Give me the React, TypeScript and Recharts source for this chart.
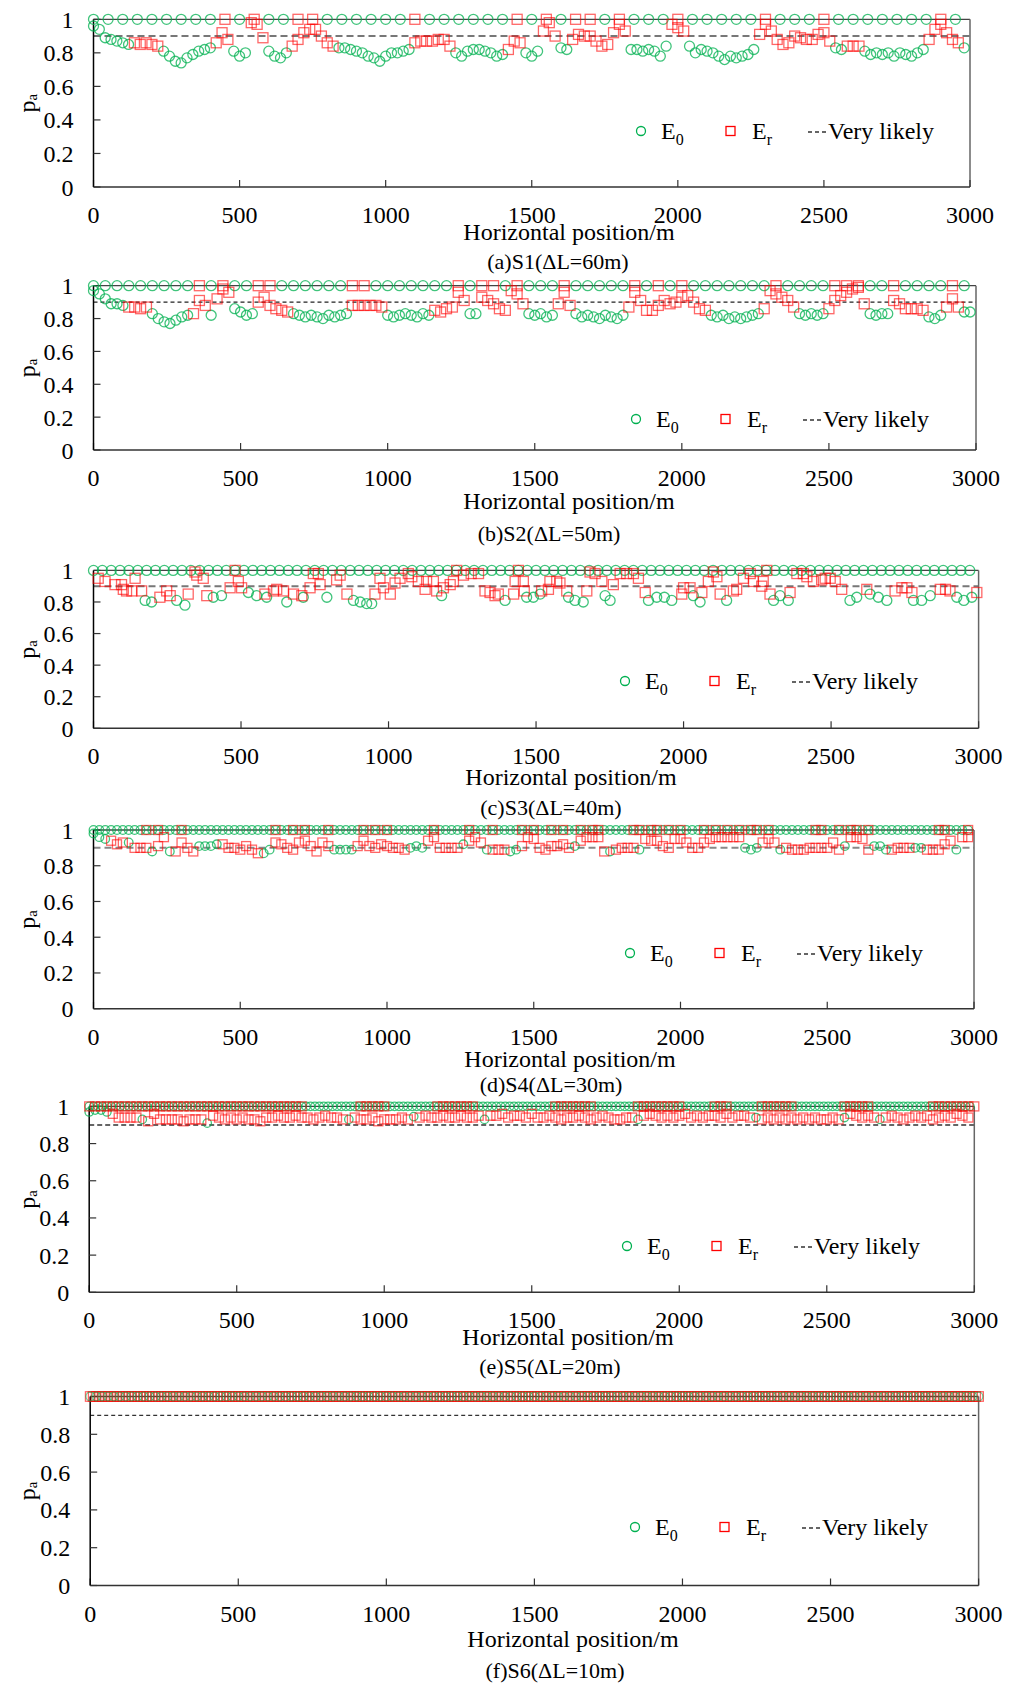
import React from 'react';
import { ScatterChart, Scatter, XAxis, YAxis, ReferenceLine } from 'recharts';

const FONT = '"Liberation Serif", "Times New Roman", serif';
const GREEN = '#00b050';
const RED = '#ff0000';

const xTicks = [0, 500, 1000, 1500, 2000, 2500, 3000];
const yTicks = [0, 0.2, 0.4, 0.6, 0.8, 1];
const likelyLevel = 0.9;

// ---- S1, dL = 60 m ----
const s1TopStep = 50;
const s1TopEnd = 2950;
const s1TopEr = [450, 550, 700, 750, 1100, 1450, 1550, 1650, 1700, 1800, 2000, 2300, 2500, 2900];
const s1LowStep = 20;
const s1Low = [
  0.96, 0.94, 0.89, 0.88, 0.87, 0.86, 0.85, 0.86, 0.85, 0.86,
  0.85, 0.84, 0.81, 0.78, 0.75, 0.74, 0.77, 0.79, 0.81, 0.82,
  0.83, 0.86, 0.92, 0.88, 0.81, 0.78, 0.8, 0.98, 0.97, 0.89,
  0.81, 0.78, 0.77, 0.8, 0.84, 0.88, 0.92, 0.94, 0.94, 0.9,
  0.86, 0.84, 0.83, 0.83, 0.82, 0.81, 0.8, 0.78, 0.77, 0.75,
  0.78, 0.8, 0.8, 0.81, 0.82, 0.86, 0.87, 0.87, 0.87, 0.88,
  0.88, 0.84, 0.8, 0.78, 0.81, 0.82, 0.82, 0.81, 0.8, 0.78,
  0.79, 0.82, 0.87, 0.86, 0.8, 0.78, 0.81, 0.93, 0.98, 0.9,
  0.83, 0.82, 0.88, 0.91, 0.9, 0.9, 0.87, 0.84, 0.85, 0.92,
  0.97, 0.93, 0.82, 0.82, 0.81, 0.82, 0.81, 0.78, 0.84, 0.97,
  0.95, 0.93, 0.84, 0.8, 0.82, 0.81, 0.8, 0.78, 0.76, 0.78,
  0.77, 0.78, 0.79, 0.82, 0.91, 0.97, 0.93, 0.88, 0.85, 0.86,
  0.9, 0.89, 0.88, 0.88, 0.91, 0.92, 0.87, 0.83, 0.82, 0.84,
  0.84, 0.84, 0.81, 0.79, 0.8, 0.79, 0.8, 0.78, 0.8, 0.79,
  0.78, 0.8, 0.82, 0.88, 0.94, 0.97, 0.92, 0.88, 0.86, 0.83,
];
const s1LowKind =
  'gggggggrrr rrgggggggg grrrgggrrr ggggrrrrrr rrgggggggg gggggrrrrr rrgggggggg grrrgggrrr ggrrrrrrrr rrgggggggr ' +
  'rrgggggggg ggggrrrrrr rrrrrrrggr rrgggggggg gggrrrrrrg';

// ---- S2, dL = 50 m ----
const s2TopStep = 40;
const s2TopEnd = 2960;
const s2TopEr = [360, 440, 560, 600, 880, 920, 1240, 1320, 1360, 1440, 1600, 1840, 1920, 2000, 2320, 2520, 2560, 2600, 2720, 2920];
const s2LowStep = 20;
const s2Low = [
  0.97, 0.95, 0.92, 0.89, 0.89, 0.88, 0.87, 0.87, 0.86, 0.87,
  0.83, 0.8, 0.78, 0.77, 0.79, 0.81, 0.82, 0.83, 0.91, 0.88,
  0.82, 0.92, 0.98, 0.96, 0.86, 0.84, 0.82, 0.83, 0.9, 0.93,
  0.88, 0.86, 0.85, 0.84, 0.83, 0.82, 0.81, 0.82, 0.81, 0.8,
  0.82, 0.81, 0.82, 0.83, 0.88, 0.88, 0.88, 0.88, 0.88, 0.87,
  0.82, 0.81, 0.82, 0.83, 0.82, 0.81, 0.83, 0.82, 0.85, 0.84,
  0.86, 0.87, 0.96, 0.91, 0.83, 0.83, 0.93, 0.91, 0.89, 0.86,
  0.85, 0.97, 0.95, 0.89, 0.83, 0.82, 0.83, 0.81, 0.82, 0.89,
  0.96, 0.88, 0.83, 0.81, 0.82, 0.81, 0.8, 0.82, 0.81, 0.8,
  0.82, 0.87, 0.96, 0.91, 0.85, 0.85, 0.88, 0.91, 0.89, 0.9,
  0.93, 0.94, 0.9, 0.86, 0.85, 0.82, 0.81, 0.82, 0.8, 0.81,
  0.8, 0.81, 0.82, 0.83, 0.86, 0.97, 0.95, 0.93, 0.91, 0.87,
  0.83, 0.82, 0.83, 0.82, 0.83, 0.86, 0.91, 0.94, 0.96, 0.98,
  0.99, 0.89, 0.83, 0.82, 0.83, 0.83, 0.91, 0.89, 0.86, 0.86,
  0.86, 0.85, 0.81, 0.8, 0.82, 0.87, 0.92, 0.87, 0.84, 0.84,
];
const s2LowKind =
  'ggggggrrrr gggggggrrr grrrggggrr rrrrgggggg ggggrrrrrr ggggggggrr rrrrggrrrr rrrrgggggr rrgggggggg grrrrrrrrr ' +
  'rrrrrggggg ggggrrrrrr gggggrrrrr rrggggrrrr rrgggrrrgg';

// ---- S3, dL = 40 m (points read one by one) ----
const s3TopStep = 30;
const s3TopEnd = 2970;
const s3E0Low = [
  [175, 0.81], [197, 0.8], [282, 0.81], [310, 0.78], [406, 0.83], [434, 0.84], [525, 0.86], [553, 0.84],
  [587, 0.83], [655, 0.8], [711, 0.83], [791, 0.83], [881, 0.81], [904, 0.8], [926, 0.79], [943, 0.79],
  [1180, 0.84], [1395, 0.81], [1468, 0.83], [1491, 0.83], [1514, 0.85], [1610, 0.83], [1632, 0.81], [1660, 0.8],
  [1734, 0.84], [1751, 0.81], [1881, 0.81], [1909, 0.83], [1935, 0.83], [1960, 0.81], [2033, 0.84], [2056, 0.8],
  [2146, 0.81], [2305, 0.81], [2327, 0.84], [2355, 0.81], [2564, 0.81], [2587, 0.83], [2632, 0.85], [2660, 0.83],
  [2689, 0.81], [2779, 0.81], [2807, 0.81], [2836, 0.84], [2926, 0.83], [2950, 0.81], [2977, 0.83],
];
const s3ErLow = [
  [16, 0.95], [39, 0.93], [73, 0.91], [95, 0.91], [101, 0.88], [112, 0.87], [130, 0.87], [141, 0.95],
  [163, 0.87], [225, 0.83], [248, 0.87], [260, 0.84], [321, 0.85], [344, 0.99], [350, 0.97], [372, 0.95],
  [384, 0.84], [463, 0.89], [480, 1.0], [491, 0.93], [502, 0.89], [581, 0.85], [610, 0.87], [621, 0.88],
  [644, 0.87], [678, 0.85], [706, 0.84], [734, 0.89], [745, 0.98], [762, 0.98], [768, 0.91], [824, 0.94],
  [836, 0.97], [859, 0.85], [954, 0.85], [971, 0.95], [983, 0.89], [1006, 0.85], [1022, 0.92], [1039, 0.95],
  [1067, 0.98], [1079, 0.96], [1101, 0.93], [1124, 0.88], [1129, 0.93], [1152, 0.93], [1163, 0.87], [1186, 0.89],
  [1209, 0.91], [1220, 0.93], [1231, 1.0], [1254, 0.97], [1280, 0.98], [1305, 0.98], [1327, 0.87], [1344, 0.86],
  [1361, 0.84], [1372, 0.85], [1424, 0.85], [1429, 0.93], [1440, 1.0], [1457, 0.93], [1460, 0.87], [1519, 0.87],
  [1542, 0.88], [1547, 0.93], [1570, 0.93], [1581, 0.92], [1604, 0.87], [1672, 0.87], [1683, 0.99], [1700, 0.98],
  [1723, 0.93], [1762, 0.91], [1785, 0.98], [1807, 0.98], [1830, 0.98], [1847, 0.95], [1870, 0.86], [1994, 0.85],
  [2000, 0.89], [2022, 0.89], [2062, 0.86], [2084, 0.93], [2101, 0.99], [2113, 0.96], [2124, 0.85], [2169, 0.87],
  [2180, 0.88], [2203, 0.95], [2226, 0.98], [2237, 0.93], [2265, 0.9], [2270, 0.93], [2282, 1.0], [2293, 0.85],
  [2361, 0.86], [2384, 0.98], [2406, 0.98], [2418, 0.96], [2440, 0.93], [2468, 0.94], [2480, 0.95], [2497, 0.95],
  [2514, 0.93], [2536, 0.88], [2621, 0.88], [2717, 0.87], [2740, 0.89], [2757, 0.89], [2774, 0.86], [2870, 0.88],
  [2888, 0.88], [2903, 0.87], [2994, 0.86],
];

// ---- S4, dL = 30 m ----
const s4TopStep = 20;
const s4TopEnd = 2980;
const s4TopEr = [
  180, 220, 300, 620, 680, 720, 800, 920, 960, 1000, 1160, 1280, 1360, 1460, 1500, 1560, 1600, 1660, 1700, 1720,
  1840, 1860, 1900, 1920, 1960, 2000, 2080, 2120, 2160, 2200, 2240, 2260, 2300, 2460, 2480, 2540, 2580, 2600, 2640,
  2880, 2900, 2980,
];
const s4LowStep = 20;
const s4Low = [
  0.98, 0.96, 0.95, 0.94, 0.92, 0.93, 0.93, 0.9, 0.9, 0.9,
  0.88, 0.91, 0.96, 0.88, 0.88, 0.93, 0.9, 0.88, 0.91, 0.91,
  0.91, 0.92, 0.92, 0.9, 0.9, 0.89, 0.91, 0.89, 0.87, 0.87,
  0.89, 0.93, 0.92, 0.9, 0.89, 0.93, 0.94, 0.91, 0.88, 0.93,
  0.91, 0.89, 0.89, 0.89, 0.89, 0.91, 0.94, 0.91, 0.9, 0.92,
  0.91, 0.9, 0.9, 0.89, 0.9, 0.91, 0.9, 0.94, 0.96, 0.9,
  0.9, 0.9, 0.9, 0.92, 0.94, 0.96, 0.93, 0.89, 0.89, 0.89,
  0.89, 0.88, 0.89, 0.91, 0.96, 0.95, 0.9, 0.89, 0.91, 0.91,
  0.92, 0.9, 0.91, 0.94, 0.96, 0.96, 0.96, 0.88, 0.88, 0.89,
  0.9, 0.9, 0.9, 0.89, 0.95, 0.94, 0.94, 0.91, 0.9, 0.95,
  0.95, 0.93, 0.9, 0.9, 0.93, 0.95, 0.96, 0.96, 0.96, 0.96,
  0.96, 0.9, 0.89, 0.9, 0.93, 0.95, 0.93, 0.89, 0.9, 0.89,
  0.89, 0.89, 0.9, 0.9, 0.9, 0.9, 0.93, 0.89, 0.91, 0.96,
  0.96, 0.95, 0.89, 0.91, 0.91, 0.89, 0.89, 0.9, 0.9, 0.9,
  0.9, 0.9, 0.89, 0.89, 0.89, 0.92, 0.94, 0.89, 0.96, 0.96,
];
const s4LowKind =
  'gggrrrgrrr grrgrrrrgg ggrrrrrrrg grrrrrrrrr rggggrrrrr rrrrgggrrr rrrgrrrgrr rggrrrrrrr rrgrrrrrgr rrrgrrrrrr ' +
  'rrrrrrrrrr rgggrrrgrr rrrrrrrrgr rrrgggrrrr ggrrrrrgrr';

// ---- S5, dL = 20 m ----
const s5TopStep = 15;
const s5TopEnd = 2985;
const s5TopErStep = 20;
const s5TopErRanges = [
  [0, 720], [920, 1000], [1180, 1300], [1580, 1700], [1860, 2000], [2120, 2160], [2280, 2380], [2560, 2640], [2860, 3000],
];
const s5LowStep = 20;
const s5Low = [
  0.97, 0.98, 0.98, 0.97, 0.96, 0.94, 0.94, 0.94, 0.94, 0.93,
  0.92, 0.96, 0.93, 0.93, 0.93, 0.93, 0.92, 0.93, 0.93, 0.93,
  0.91, 0.95, 0.94, 0.93, 0.94, 0.93, 0.94, 0.93, 0.93, 0.92,
  0.94, 0.94, 0.95, 0.94, 0.94, 0.95, 0.94, 0.94, 0.93, 0.94,
  0.95, 0.94, 0.94, 0.93, 0.93, 0.94, 0.93, 0.93, 0.94, 0.92,
  0.93, 0.93, 0.93, 0.94, 0.93, 0.945, 0.94, 0.95, 0.94, 0.94,
  0.95, 0.94, 0.94, 0.95, 0.94, 0.94, 0.95, 0.93, 0.95, 0.95,
  0.96, 0.94, 0.95, 0.95, 0.94, 0.96, 0.94, 0.94, 0.95, 0.94,
  0.93, 0.94, 0.94, 0.95, 0.94, 0.93, 0.94, 0.95, 0.94, 0.93,
  0.93, 0.94, 0.94, 0.93, 0.95, 0.96, 0.95, 0.94, 0.95, 0.94,
  0.95, 0.96, 0.94, 0.95, 0.94, 0.95, 0.95, 0.94, 0.96, 0.94,
  0.95, 0.95, 0.94, 0.94, 0.93, 0.94, 0.93, 0.94, 0.93, 0.94,
  0.93, 0.94, 0.93, 0.94, 0.93, 0.93, 0.94, 0.93, 0.94, 0.96,
  0.95, 0.94, 0.95, 0.94, 0.93, 0.94, 0.95, 0.94, 0.93, 0.94,
  0.95, 0.94, 0.95, 0.93, 0.94, 0.95, 0.94, 0.96, 0.95, 0.94,
];
const s5LowKind =
  'ggggrrrrrg rrrrrrrrrr grrrrrrrrr rrrrrrrrrr rrrrgrrrrr rrrrrgrrrr rrrrrrrgrr rrrrrrrrrr rrrrrrrrrr rrrgrrrrrr ' +
  'rrrrrrrrrr rrrgrrrrrr rrrrrrrrgr rrrrgrrrrr rrrrrrrrrr';

// ---- S6, dL = 10 m ----
const s6TopStep = 20;
const s6TopEnd = 3000;
const s6TopErStep = 10;
const s6TopErRanges = [[0, 3000]];

type Pt = { x: number; y: number };

function grid(start: number, end: number, step: number): number[] {
  const xs: number[] = [];
  for (let x = start; x <= end + 1e-6; x += step) xs.push(Math.round(x));
  return xs;
}

function ranges(rs: number[][], step: number): number[] {
  return rs.flatMap(([a, b]) => grid(a, b, step));
}

const atOne = (xs: number[]): Pt[] => xs.map((x) => ({ x, y: 1 }));
const pairs = (ps: number[][]): Pt[] => ps.map(([x, y]) => ({ x, y }));

function lowRow(values: number[], kinds: string, step: number, want: string): Pt[] {
  const k = kinds.replace(/\s/g, '');
  const out: Pt[] = [];
  values.forEach((v, i) => {
    if (k[i] === want) out.push({ x: i * step, y: v });
  });
  return out;
}

function topE0(step: number, end: number, skip: number[]): Pt[] {
  return atOne(grid(0, end, step).filter((x) => !skip.includes(x)));
}

const panels = [
  {
    caption: '(a)S1(ΔL=60m)',
    top: 0, height: 280, plotTop: 19.3, plotBottom: 187, plotLeft: 93.5, plotRight: 970,
    e0: [...topE0(s1TopStep, s1TopEnd, s1TopEr), ...lowRow(s1Low, s1LowKind, s1LowStep, 'g')],
    er: [...atOne(s1TopEr), ...lowRow(s1Low, s1LowKind, s1LowStep, 'r')],
    r: 5, side: 10, e0Last: false,
    dash: '7 4', dashColor: '#777', dashWidth: 2,
    legendX: 641, legendY: 131, titleX: 569, titleY: 232, capX: 558, capY: 261,
  },
  {
    caption: '(b)S2(ΔL=50m)',
    top: 272, height: 280, plotTop: 285.7, plotBottom: 450, plotLeft: 93.5, plotRight: 976,
    e0: [...topE0(s2TopStep, s2TopEnd, s2TopEr), ...lowRow(s2Low, s2LowKind, s2LowStep, 'g')],
    er: [...atOne(s2TopEr), ...lowRow(s2Low, s2LowKind, s2LowStep, 'r')],
    r: 5, side: 10, e0Last: false,
    dash: '4 3', dashColor: '#222', dashWidth: 1.3,
    legendX: 636, legendY: 419, titleX: 569, titleY: 500.5, capX: 549, capY: 533,
  },
  {
    caption: '(c)S3(ΔL=40m)',
    top: 556, height: 270, plotTop: 570.4, plotBottom: 728.3, plotLeft: 93.5, plotRight: 978.6,
    e0: [...topE0(s3TopStep, s3TopEnd, []), ...pairs(s3E0Low)],
    er: pairs(s3ErLow),
    r: 5, side: 10, e0Last: false,
    dash: '7 4', dashColor: '#777', dashWidth: 2,
    legendX: 625, legendY: 681, titleX: 571, titleY: 777, capX: 551, capY: 807,
  },
  {
    caption: '(d)S4(ΔL=30m)',
    top: 816, height: 285, plotTop: 830, plotBottom: 1008.7, plotLeft: 93.5, plotRight: 974,
    e0: [...topE0(s4TopStep, s4TopEnd, []), ...lowRow(s4Low, s4LowKind, s4LowStep, 'g')],
    er: [...atOne(s4TopEr), ...lowRow(s4Low, s4LowKind, s4LowStep, 'r')],
    r: 4.3, side: 9, e0Last: false,
    dash: '7 4', dashColor: '#888', dashWidth: 2,
    legendX: 629.5, legendY: 953, titleX: 570, titleY: 1059, capX: 551, capY: 1084,
  },
  {
    caption: '(e)S5(ΔL=20m)',
    top: 1094, height: 290, plotTop: 1106.4, plotBottom: 1292.3, plotLeft: 89.2, plotRight: 974.3,
    e0: [...topE0(s5TopStep, s5TopEnd, []), ...lowRow(s5Low, s5LowKind, s5LowStep, 'g')],
    er: [...atOne(ranges(s5TopErRanges, s5TopErStep)), ...lowRow(s5Low, s5LowKind, s5LowStep, 'r')],
    r: 4.2, side: 9, e0Last: false,
    dash: '5 3', dashColor: '#333', dashWidth: 1.3,
    legendX: 627, legendY: 1246, titleX: 568, titleY: 1337.4, capX: 550, capY: 1366.4,
  },
  {
    caption: '(f)S6(ΔL=10m)',
    top: 1384, height: 301, plotTop: 1396.5, plotBottom: 1585.5, plotLeft: 90.2, plotRight: 978.6,
    e0: topE0(s6TopStep, s6TopEnd, []),
    er: atOne(ranges(s6TopErRanges, s6TopErStep)),
    r: 4.3, side: 9.5, e0Last: true,
    dash: '4 3', dashColor: '#333', dashWidth: 1.3,
    legendX: 635, legendY: 1526.5, titleX: 573, titleY: 1639, capX: 555, capY: 1670,
  },
];

type PanelDef = (typeof panels)[number];

const W = 1014;

function LegendRow({ p }: { p: PanelDef }) {
  const left = p.legendX - 10;
  const top = p.legendY - 20;
  return (
    <svg
      width={330}
      height={40}
      style={{ position: 'absolute', left, top: top - p.top, overflow: 'visible' }}
      fontFamily={FONT}
    >
      <circle cx={10} cy={20} r={4.5} fill="none" stroke={GREEN} strokeWidth={1.3} />
      <text x={30} y={28} fontSize={24} fill="#000">
        E<tspan fontSize={16} dy={6}>0</tspan>
      </text>
      <rect x={95} y={15.5} width={9} height={9} fill="none" stroke={RED} strokeWidth={1.3} />
      <text x={121} y={28} fontSize={24} fill="#000">
        E<tspan fontSize={16} dy={6}>r</tspan>
      </text>
      <line x1={177} x2={196} y1={21} y2={21} stroke="#333" strokeWidth={1.3} strokeDasharray="4 3" />
      <text x={197} y={28} fontSize={24} fill="#000">Very likely</text>
    </svg>
  );
}

function Panel({ p }: { p: PanelDef }) {
  const margin = { top: p.plotTop - p.top, right: W - p.plotRight, bottom: 0, left: 0 };
  const xAxisHeight = p.top + p.height - p.plotBottom;
  const midY = (p.plotTop + p.plotBottom) / 2 - p.top;

  const circle = (props: any) => (
    <circle
      cx={props.cx}
      cy={props.cy}
      r={p.r}
      fill="none"
      stroke={GREEN}
      strokeOpacity={p.e0Last ? 0.55 : 0.75}
      strokeWidth={1.3}
    />
  );
  const square = (props: any) => (
    <rect
      x={props.cx - p.side / 2}
      y={props.cy - p.side / 2}
      width={p.side}
      height={p.side}
      fill="none"
      stroke={RED}
      strokeOpacity={0.6}
      strokeWidth={1.3}
    />
  );

  const captions = () => (
    <g fontFamily={FONT} fill="#000">
      <text x={p.titleX} y={p.titleY - p.top} fontSize={24} textAnchor="middle" dominantBaseline="central">
        Horizontal position/m
      </text>
      <text x={p.capX} y={p.capY - p.top} fontSize={22} textAnchor="middle" dominantBaseline="central">
        {p.caption}
      </text>
    </g>
  );

  const yLabel = () => (
    <text
      x={27}
      y={midY}
      transform={`rotate(-90, 27, ${midY})`}
      fontFamily={FONT}
      fontSize={24}
      fill="#000"
      textAnchor="middle"
      dominantBaseline="central"
    >
      p<tspan fontSize={15} dy={5}>a</tspan>
    </text>
  );

  const e0Series = <Scatter key="e0" data={p.e0} shape={circle} isAnimationActive={false} legendType="none" />;
  const erSeries = <Scatter key="er" data={p.er} shape={square} isAnimationActive={false} legendType="none" />;

  return (
    <div style={{ position: 'absolute', left: 0, top: p.top, width: W, height: p.height }}>
      <ScatterChart width={W} height={p.height} margin={margin}>
        <XAxis
          type="number"
          dataKey="x"
          domain={[0, 3000]}
          ticks={xTicks}
          interval={0}
          height={xAxisHeight}
          tickSize={-7}
          tickMargin={26}
          axisLine={{ stroke: '#333', strokeWidth: 1.5 }}
          tickLine={{ stroke: '#333', strokeWidth: 1.2 }}
          tick={{ fontSize: 24, fill: '#000', fontFamily: FONT }}
          label={{ content: captions }}
        />
        <YAxis
          type="number"
          dataKey="y"
          domain={[0, 1]}
          ticks={yTicks}
          interval={0}
          width={p.plotLeft}
          tickSize={-7}
          tickMargin={27}
          axisLine={{ stroke: '#000', strokeWidth: 1.5 }}
          tickLine={{ stroke: '#333', strokeWidth: 1.2 }}
          tick={{ fontSize: 24, fill: '#000', fontFamily: FONT }}
          label={{ content: yLabel }}
        />
        <ReferenceLine
          y={likelyLevel}
          stroke={p.dashColor}
          strokeWidth={p.dashWidth}
          strokeDasharray={p.dash}
        />
        <ReferenceLine y={1} stroke="#444" strokeWidth={1.3} />
        <ReferenceLine x={3000} stroke="#666" strokeWidth={1.5} />
        {p.e0Last ? [erSeries, e0Series] : [e0Series, erSeries]}
      </ScatterChart>
      <LegendRow p={p} />
    </div>
  );
}

export default function App() {
  return (
    <div style={{ position: 'absolute', left: 0, top: 0, width: W, height: 1685, background: '#fff' }}>
      {panels.map((p) => (
        <Panel key={p.caption} p={p} />
      ))}
    </div>
  );
}
